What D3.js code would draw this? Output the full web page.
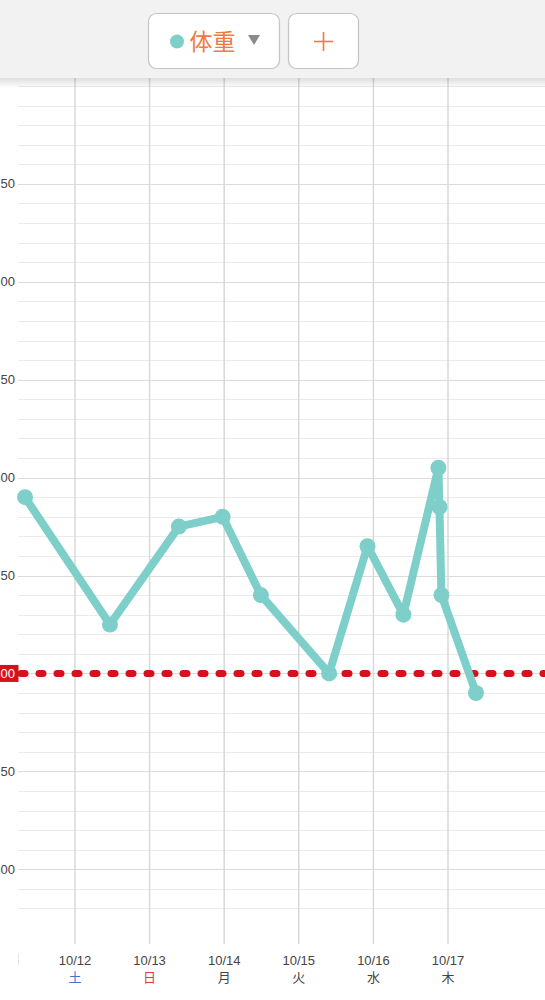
<!DOCTYPE html>
<html>
<head>
<meta charset="utf-8">
<script src="https://cdn.jsdelivr.net/npm/d3@7"></script>
<style>
  html, body { margin: 0; padding: 0; background: #fff; overflow: hidden; }
  svg { display: block; }
</style>
</head>
<body>
<script>
// ---------- data ----------
const pointTimes = ["2019-10-11T07:55","2019-10-12T11:15","2019-10-13T09:25","2019-10-13T23:30",
  "2019-10-14T11:48","2019-10-15T09:45","2019-10-15T22:06","2019-10-16T09:39",
  "2019-10-16T20:54","2019-10-16T21:15","2019-10-16T21:53","2019-10-17T09:00"];
const weights = [59.90, 59.25, 59.75, 59.80, 59.40, 59.00, 59.65, 59.30, 60.05, 59.85, 59.40, 58.90];
const dayTicks = ["2019-10-12","2019-10-13","2019-10-14","2019-10-15","2019-10-16","2019-10-17"];
const dayLabels = ["10/12","10/13","10/14","10/15","10/16","10/17"];
const weekdayLabels = ["土","日","月","火","水","木"];
const yMajorTicks = [58.0, 58.5, 59.0, 59.5, 60.0, 60.5, 61.0, 61.5];
// only the right-hand part of each y label is visible in the scrolled view
const yTickLabels = ["00", "50", "00", "50", "00", "50", "00", "50"];
const targetWeight = 59.0;
const targetLabel = "00";
const seriesName = "体重";

// ---------- setup ----------
const W = 545, H = 1000;
const parseT = d3.timeParse("%Y-%m-%dT%H:%M");
const parseD = d3.timeParse("%Y-%m-%d");
const data = pointTimes.map((t, i) => ({ t: parseT(t), v: weights[i] }));
const ticks = dayTicks.map((d, i) => ({ t: parseD(d), label: dayLabels[i], wd: weekdayLabels[i] }));

const plotLeft = 18, plotRight = W, plotTop = 86, plotBottom = 928;

const x = d3.scaleTime()
  .domain([parseD("2019-10-12"), parseD("2019-10-17")])
  .range([75, 448]);
const y = d3.scaleLinear().domain([57.7, 62.0]).range([plotBottom, plotTop]);

const svg = d3.select("body").append("svg").attr("width", W).attr("height", H);
const defs = svg.append("defs");
const shadow = defs.append("linearGradient").attr("id", "hdrshadow").attr("x1", 0).attr("x2", 0).attr("y1", 0).attr("y2", 1);
shadow.append("stop").attr("offset", 0).attr("stop-color", "#000").attr("stop-opacity", 0.13);
shadow.append("stop").attr("offset", 1).attr("stop-color", "#000").attr("stop-opacity", 0);

// ---------- grid ----------
const grid = svg.append("g");
const minorTicks = d3.range(0, 43).map(i => +(57.8 + i * 0.1).toFixed(1));
grid.selectAll("line.minor").data(minorTicks).join("line")
  .attr("x1", plotLeft).attr("x2", plotRight)
  .attr("y1", d => Math.round(y(d)) + 0.5).attr("y2", d => Math.round(y(d)) + 0.5)
  .attr("stroke", d => yMajorTicks.some(m => Math.abs(m - d) < 1e-6) ? "#dcdcdc" : "#ebebeb")
  .attr("stroke-width", 1.2);

grid.selectAll("line.vert").data(ticks).join("line")
  .attr("x1", d => x(d.t)).attr("x2", d => x(d.t))
  .attr("y1", 78).attr("y2", 944)
  .attr("stroke", "#d9d9d9").attr("stroke-width", 1.5);

// faint edge mark at the left of the x-axis label row
svg.append("line").attr("x1", 18.5).attr("x2", 18.5).attr("y1", 953).attr("y2", 965)
  .attr("stroke", "#e6e6e6").attr("stroke-width", 1);

// ---------- y labels ----------
const fontNum = "'Helvetica Neue', Arial, 'Liberation Sans', sans-serif";
svg.append("g").selectAll("text")
  .data(yMajorTicks.map((v, i) => ({ v, label: yTickLabels[i] })).filter(d => d.v !== targetWeight))
  .join("text")
  .attr("x", 15).attr("y", d => y(d.v) + 4.5)
  .attr("text-anchor", "end")
  .attr("font-family", fontNum).attr("font-size", 13).attr("fill", "#444")
  .text(d => d.label);

// ---------- x labels ----------
const xl = svg.append("g");
xl.selectAll("text.date").data(ticks).join("text")
  .attr("x", d => x(d.t)).attr("y", 965)
  .attr("text-anchor", "middle")
  .attr("font-family", fontNum).attr("font-size", 13)
  .attr("fill", "#444")
  .text(d => d.label);
xl.selectAll("text.wd").data(ticks).join("text")
  .attr("x", d => x(d.t)).attr("y", 982)
  .attr("text-anchor", "middle")
  .attr("font-family", "'Noto Sans CJK JP', sans-serif").attr("font-size", 13)
  .attr("fill", d => d.wd === "土" ? "#4a72c4" : d.wd === "日" ? "#e03a44" : "#444")
  .text(d => d.wd);

// ---------- target line ----------
const ty = y(targetWeight);
svg.append("line")
  .attr("x1", 21).attr("x2", W + 10)
  .attr("y1", ty).attr("y2", ty)
  .attr("stroke", "#d4121c").attr("stroke-width", 7)
  .attr("stroke-linecap", "round")
  .attr("stroke-dasharray", "4 14");
svg.append("rect").attr("x", 0).attr("y", ty - 8.5).attr("width", 18.5).attr("height", 17)
  .attr("fill", "#d4121c");
svg.append("text").attr("x", 15).attr("y", ty + 4.5).attr("text-anchor", "end")
  .attr("font-family", fontNum).attr("font-size", 13).attr("fill", "#fff")
  .text(targetLabel);

// ---------- series ----------
const teal = "#7ecfca";
svg.append("path").datum(data)
  .attr("d", d3.line().x(d => x(d.t)).y(d => y(d.v)))
  .attr("fill", "none").attr("stroke", teal).attr("stroke-width", 8)
  .attr("stroke-linejoin", "round");
svg.append("g").selectAll("circle").data(data).join("circle")
  .attr("cx", d => x(d.t)).attr("cy", d => y(d.v)).attr("r", 8)
  .attr("fill", teal);

// ---------- header ----------
const hdr = svg.append("g");
hdr.append("rect").attr("x", 0).attr("y", 78).attr("width", W).attr("height", 10).attr("fill", "url(#hdrshadow)");
hdr.append("rect").attr("x", 0).attr("y", 0).attr("width", W).attr("height", 78).attr("fill", "#f2f2f2");
hdr.append("rect").attr("x", 148.5).attr("y", 13.5).attr("width", 131).attr("height", 55).attr("rx", 8)
  .attr("fill", "#fff").attr("stroke", "#c4c4c4").attr("stroke-width", 1.2);
hdr.append("rect").attr("x", 288.5).attr("y", 13.5).attr("width", 70).attr("height", 55).attr("rx", 8)
  .attr("fill", "#fff").attr("stroke", "#c4c4c4").attr("stroke-width", 1.2);
hdr.append("circle").attr("cx", 177).attr("cy", 41.5).attr("r", 7).attr("fill", teal);
hdr.append("text").attr("x", 189.5).attr("y", 50)
  .attr("font-family", "'Noto Sans CJK JP', sans-serif").attr("font-size", 23)
  .attr("fill", "#f07a42").text(seriesName);
hdr.append("path").attr("d", "M248,35 L260,35 L254,45 Z").attr("fill", "#8a8a8a");
hdr.append("line").attr("x1", 314).attr("x2", 333).attr("y1", 41.5).attr("y2", 41.5)
  .attr("stroke", "#f07a42").attr("stroke-width", 1.6);
hdr.append("line").attr("x1", 323.5).attr("x2", 323.5).attr("y1", 32).attr("y2", 51)
  .attr("stroke", "#f07a42").attr("stroke-width", 1.6);
</script>
</body>
</html>
